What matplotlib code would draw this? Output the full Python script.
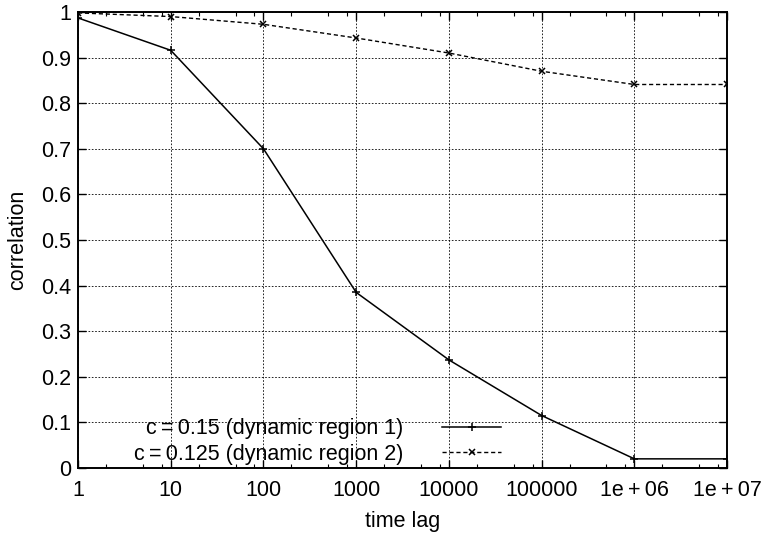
import matplotlib
matplotlib.use("Agg")
import matplotlib.pyplot as plt
from matplotlib.ticker import FixedLocator, LogLocator, NullFormatter

# correlation vs. time lag for the two dynamic regions
time_lag = [1, 10, 100, 1000, 10000, 100000, 1e6, 1e7]
corr_region1 = [0.987, 0.916, 0.700, 0.385, 0.237, 0.115, 0.020, 0.020]
corr_region2 = [0.998, 0.990, 0.973, 0.943, 0.910, 0.870, 0.841, 0.841]
x_tick_labels = ["1", "10", "100", "1000", "10000", "100000", "1e\u2009+\u200906", "1e\u2009+\u200907"]
y_ticks = [0, 0.1, 0.2, 0.3, 0.4, 0.5, 0.6, 0.7, 0.8, 0.9, 1]
y_tick_labels = ["0", "0.1", "0.2", "0.3", "0.4", "0.5", "0.6", "0.7", "0.8", "0.9", "1"]

FS = 15.5
plt.rcParams["font.family"] = ["Liberation Sans", "DejaVu Sans"]
plt.rcParams["font.size"] = FS

fig = plt.figure(figsize=(7.67, 5.33), dpi=100)
ax = fig.add_axes([0.1017, 0.122, 0.8463, 0.8555])

ax.plot(time_lag, corr_region1, "-", color="black", lw=1.1, marker="+",
        ms=6, mew=1.1, label="c\u2009=\u20090.15 (dynamic region 1)")
ax.plot(time_lag, corr_region2, "--", color="black", lw=1.0, dashes=(3, 2),
        marker="x", ms=5, mew=1.1, label="c\u2009=\u20090.125 (dynamic region 2)")

ax.set_xscale("log")
ax.set_xlim(1, 1e7)
ax.set_ylim(0, 1)
ax.xaxis.set_major_locator(FixedLocator(time_lag))
ax.set_xticks(time_lag, x_tick_labels)
ax.xaxis.set_minor_locator(LogLocator(base=10, subs=(2, 5, 8)))
ax.xaxis.set_minor_formatter(NullFormatter())
ax.set_yticks(y_ticks, y_tick_labels)

ax.tick_params(which="both", direction="in", top=True, right=True, labelsize=FS)
ax.tick_params(which="major", length=6, width=1)
ax.tick_params(which="minor", length=3, width=0.8)
ax.tick_params(axis="x", pad=9)
ax.tick_params(axis="y", pad=5)
for s in ax.spines.values():
    s.set_linewidth(1.4)

ax.grid(True, which="major", color="black", linestyle=(0, (2, 2)), lw=0.6)

ax.set_xlabel("time lag", fontsize=FS, labelpad=7)
ax.set_ylabel("correlation", fontsize=FS, labelpad=9)

ax.legend(loc="lower right", bbox_to_anchor=(0.669, -0.016), frameon=False,
          markerfirst=False, handlelength=2.75, fontsize=FS, borderpad=0,
          labelspacing=0.2, handletextpad=1.8)

fig.savefig("out.png", dpi=100)
